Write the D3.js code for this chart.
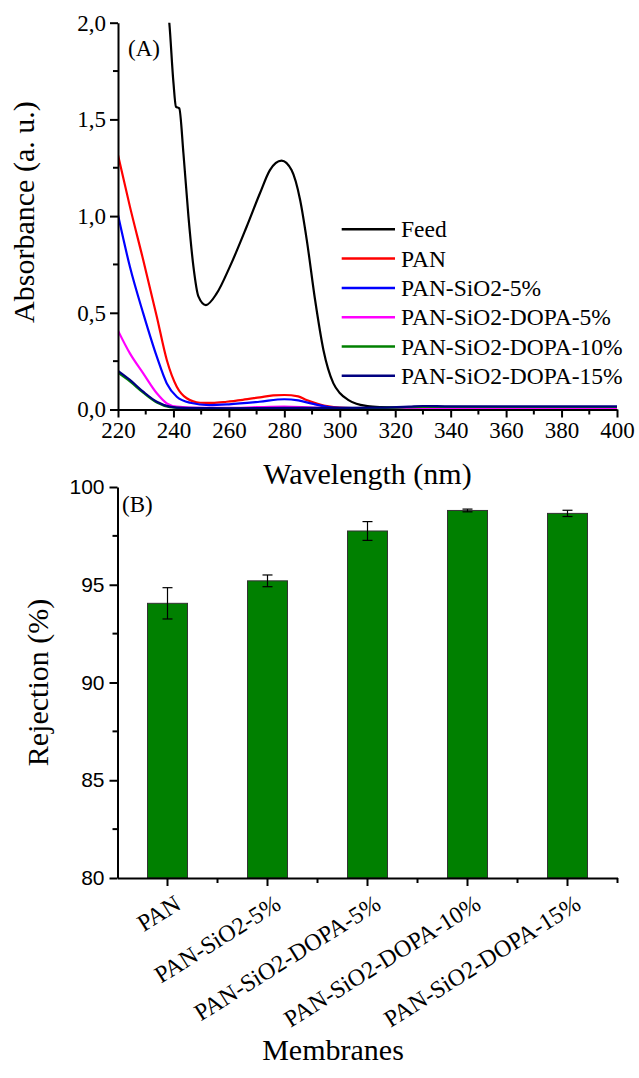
<!DOCTYPE html>
<html>
<head>
<meta charset="utf-8">
<script src="https://cdn.jsdelivr.net/npm/d3@7"></script>
<style>
  body { margin: 0; background: #fff; }
  svg { display: block; }
  .serif { font-family: Liberation Serif, Times New Roman, DejaVu Serif, serif; }
  .sans  { font-family: Liberation Sans, Arial, sans-serif; }
</style>
</head>
<body>
<svg id="chart" width="639" height="1078"></svg>
<script>
// ---- (A) UV-vis spectra ----
const feedWl  = [232, 236, 238.5, 240, 240.9, 242.1, 243.6, 245.4, 247.2, 249, 251.7, 255.6, 260.4, 266.4, 271.2, 274.8, 279, 282.6, 285.7, 288.1, 291.1, 294.1, 297.7, 300, 303, 306, 310, 315, 320, 340, 360, 380, 400];
const feedAbs = [2.6, 2.2, 2.0, 1.69, 1.566, 1.557, 1.325, 1.0, 0.74, 0.585, 0.54, 0.60, 0.74, 0.945, 1.118, 1.238, 1.287, 1.238, 1.083, 0.876, 0.566, 0.308, 0.135, 0.085, 0.05, 0.03, 0.018, 0.012, 0.01, 0.012, 0.012, 0.012, 0.012];

const panWl  = [220, 224.3, 229.1, 234, 237.6, 241.2, 244.8, 249.6, 254, 259.2, 265, 271.2, 276, 280, 285, 288, 292, 296, 300, 310, 320, 400];
const panAbs = [1.316, 1.049, 0.773, 0.48, 0.256, 0.118, 0.058, 0.035, 0.034, 0.04, 0.05, 0.063, 0.073, 0.075, 0.068, 0.049, 0.03, 0.016, 0.01, 0.006, 0.005, 0.005];

const sio2Wl  = [220, 224.3, 229.1, 234, 237.6, 241.2, 246, 253, 260, 271, 280, 285, 290, 295, 300, 320, 400];
const sio2Abs = [1.006, 0.738, 0.497, 0.273, 0.135, 0.066, 0.035, 0.023, 0.027, 0.04, 0.053, 0.047, 0.03, 0.015, 0.008, 0.004, 0.004];

const dopa5Wl  = [220, 224.3, 229.1, 234, 237.6, 241.2, 250, 260, 270, 280, 290, 300, 320, 400];
const dopa5Abs = [0.408, 0.29, 0.187, 0.084, 0.032, 0.015, 0.008, 0.008, 0.012, 0.015, 0.01, 0.006, 0.005, 0.005];

const dopa10Wl  = [220, 224.3, 229.1, 234, 238.7, 244, 260, 280, 300, 320, 330, 360, 400];
const dopa10Abs = [0.19, 0.145, 0.087, 0.036, 0.012, 0.006, 0.005, 0.007, 0.007, 0.01, 0.014, 0.013, 0.013];

const dopa15Wl  = [220, 224.3, 229.1, 234, 238.7, 244, 260, 280, 300, 315, 325, 330, 340, 360, 380, 400];
const dopa15Abs = [0.20, 0.153, 0.092, 0.04, 0.015, 0.008, 0.006, 0.008, 0.008, 0.01, 0.015, 0.018, 0.016, 0.016, 0.016, 0.016];

const seriesNames  = ["Feed", "PAN", "PAN-SiO2-5%", "PAN-SiO2-DOPA-5%", "PAN-SiO2-DOPA-10%", "PAN-SiO2-DOPA-15%"];
const seriesColors = ["#000000", "#ff0000", "#0000ff", "#ff00ff", "#008000", "#000080"];
const seriesWl  = [feedWl, panWl, sio2Wl, dopa5Wl, dopa10Wl, dopa15Wl];
const seriesAbs = [feedAbs, panAbs, sio2Abs, dopa5Abs, dopa10Abs, dopa15Abs];

const wlTicks  = [220, 240, 260, 280, 300, 320, 340, 360, 380, 400];
const absTicks = [0, 0.5, 1.0, 1.5, 2.0];

// ---- (B) rejection ----
const membranes    = ["PAN", "PAN-SiO2-5%", "PAN-SiO2-DOPA-5%", "PAN-SiO2-DOPA-10%", "PAN-SiO2-DOPA-15%"];
const rejection    = [94.05, 95.2, 97.75, 98.8, 98.65];
const rejectionErr = [0.8, 0.3, 0.48, 0.07, 0.16];
const rejTicks     = [80, 85, 90, 95, 100];

const svg = d3.select("#chart");
svg.append("rect").attr("width", 639).attr("height", 1078).attr("fill", "#fff");

function styleAxis(g, cls, size) {
  g.attr("font-family", null).attr("font-size", null);
  g.select(".domain").attr("stroke", "#000").attr("stroke-width", 2);
  g.selectAll(".tick line").attr("stroke", "#000").attr("stroke-width", 2);
  g.selectAll(".tick text").attr("class", cls).style("font-size", size + "px").attr("fill", "#000");
}

// ================= panel A =================
const xA = d3.scaleLinear().domain([220, 400]).range([118, 617]);
const yA = d3.scaleLinear().domain([0, 2]).range([409.5, 22.7]);

svg.append("clipPath").attr("id", "clipA")
  .append("rect").attr("x", xA(220)).attr("y", yA(2)).attr("width", xA(400) - xA(220)).attr("height", yA(0) - yA(2));

const line = d3.line().x(d => xA(d[0])).y(d => yA(d[1])).curve(d3.curveMonotoneX);

const curves = svg.append("g").attr("clip-path", "url(#clipA)");
seriesNames.forEach((name, i) => {
  const pts = seriesWl[i].map((w, j) => [w, seriesAbs[i][j]]);
  curves.append("path")
    .attr("d", line(pts))
    .attr("fill", "none")
    .attr("stroke", seriesColors[i])
    .attr("stroke-width", 2.2)
    .attr("stroke-linejoin", "round");
});

// minor ticks first so axes sit on top
svg.append("g").selectAll("line").data(d3.range(230, 400, 20)).join("line")
  .attr("x1", d => xA(d)).attr("x2", d => xA(d))
  .attr("y1", yA(0)).attr("y2", yA(0) + 5)
  .attr("stroke", "#000").attr("stroke-width", 2);
svg.append("g").selectAll("line").data([0.25, 0.75, 1.25, 1.75]).join("line")
  .attr("x1", xA(220) - 5).attr("x2", xA(220))
  .attr("y1", d => yA(d)).attr("y2", d => yA(d))
  .attr("stroke", "#000").attr("stroke-width", 2);

const gxA = svg.append("g").attr("transform", `translate(0,${yA(0)})`)
  .call(d3.axisBottom(xA).tickValues(wlTicks).tickSize(8).tickSizeOuter(0).tickPadding(4).tickFormat(d3.format("d")));
styleAxis(gxA, "serif", 23);

const gyA = svg.append("g").attr("transform", `translate(${xA(220)},0)`)
  .call(d3.axisLeft(yA).tickValues(absTicks).tickSize(8).tickSizeOuter(0).tickPadding(4)
    .tickFormat(d => d3.format(".1f")(d).replace(".", ",")));
styleAxis(gyA, "serif", 23);

svg.append("text").attr("class", "serif").attr("x", 128).attr("y", 56)
  .style("font-size", "23px").text("(A)");

svg.append("text").attr("class", "serif")
  .attr("transform", `translate(34,${(yA(0) + yA(2)) / 2 - 4}) rotate(-90)`)
  .attr("text-anchor", "middle").style("font-size", "30px")
  .text("Absorbance (a. u.)");

svg.append("text").attr("class", "serif").attr("x", (xA(220) + xA(400)) / 2).attr("y", 484)
  .attr("text-anchor", "middle").style("font-size", "30px")
  .text("Wavelength (nm)");

// legend
const legend = svg.append("g");
seriesNames.forEach((name, i) => {
  const y = 229.3 + i * 29.3;
  legend.append("line").attr("x1", 341.7).attr("x2", 395).attr("y1", y).attr("y2", y)
    .attr("stroke", seriesColors[i]).attr("stroke-width", 2.5);
  legend.append("text").attr("class", "serif").attr("x", 401).attr("y", y + 8)
    .style("font-size", "23.5px").text(name);
});

// ================= panel B =================
const xB = d3.scaleBand().domain(membranes).range([117.5, 617.5]).paddingInner(0.6).paddingOuter(0.3);
const yB = d3.scaleLinear().domain([80, 100]).range([878, 487]);

svg.append("g").selectAll("rect").data(membranes).join("rect")
  .attr("x", d => xB(d)).attr("width", xB.bandwidth())
  .attr("y", (d, i) => yB(rejection[i]))
  .attr("height", (d, i) => yB(80) - yB(rejection[i]))
  .attr("fill", "#008000").attr("stroke", "#333").attr("stroke-width", 1);

const err = svg.append("g").attr("stroke", "#000").attr("stroke-width", 1.2);
membranes.forEach((m, i) => {
  const cx = xB(m) + xB.bandwidth() / 2;
  const top = yB(rejection[i] + rejectionErr[i]);
  const bot = yB(rejection[i] - rejectionErr[i]);
  err.append("line").attr("x1", cx).attr("x2", cx).attr("y1", top).attr("y2", bot);
  err.append("line").attr("x1", cx - 5).attr("x2", cx + 5).attr("y1", top).attr("y2", top);
  err.append("line").attr("x1", cx - 5).attr("x2", cx + 5).attr("y1", bot).attr("y2", bot);
});

// minor ticks
svg.append("g").selectAll("line").data([82.5, 87.5, 92.5, 97.5]).join("line")
  .attr("x1", 117.5 - 5).attr("x2", 117.5)
  .attr("y1", d => yB(d)).attr("y2", d => yB(d))
  .attr("stroke", "#000").attr("stroke-width", 2);
svg.append("g").selectAll("line").data(membranes).join("line")
  .attr("x1", d => xB(d) + xB.bandwidth() / 2 + xB.step() / 2)
  .attr("x2", d => xB(d) + xB.bandwidth() / 2 + xB.step() / 2)
  .attr("y1", yB(80)).attr("y2", yB(80) + 5)
  .attr("stroke", "#000").attr("stroke-width", 2);

const gxB = svg.append("g").attr("transform", `translate(0,${yB(80)})`)
  .call(d3.axisBottom(xB).tickSize(8).tickSizeOuter(0).tickFormat(""));
styleAxis(gxB, "serif", 23);

const gyB = svg.append("g").attr("transform", "translate(117.5,0)")
  .call(d3.axisLeft(yB).tickValues(rejTicks).tickSize(8).tickSizeOuter(0).tickPadding(5).tickFormat(d3.format("d")));
styleAxis(gyB, "sans", 21);

svg.append("g").selectAll("text").data(membranes).join("text")
  .attr("class", "serif")
  .attr("transform", d => `translate(${xB(d) + xB.bandwidth() / 2 + 15},${yB(80) + 30}) rotate(-32)`)
  .attr("text-anchor", "end").style("font-size", "24px")
  .text(d => d);

svg.append("text").attr("class", "serif").attr("x", 122).attr("y", 512)
  .style("font-size", "23px").text("(B)");

svg.append("text").attr("class", "serif")
  .attr("transform", `translate(48,${(yB(80) + yB(100)) / 2}) rotate(-90)`)
  .attr("text-anchor", "middle").style("font-size", "30px")
  .text("Rejection (%)");

svg.append("text").attr("class", "serif").attr("x", 333).attr("y", 1060)
  .attr("text-anchor", "middle").style("font-size", "30px")
  .text("Membranes");
</script>
</body>
</html>
